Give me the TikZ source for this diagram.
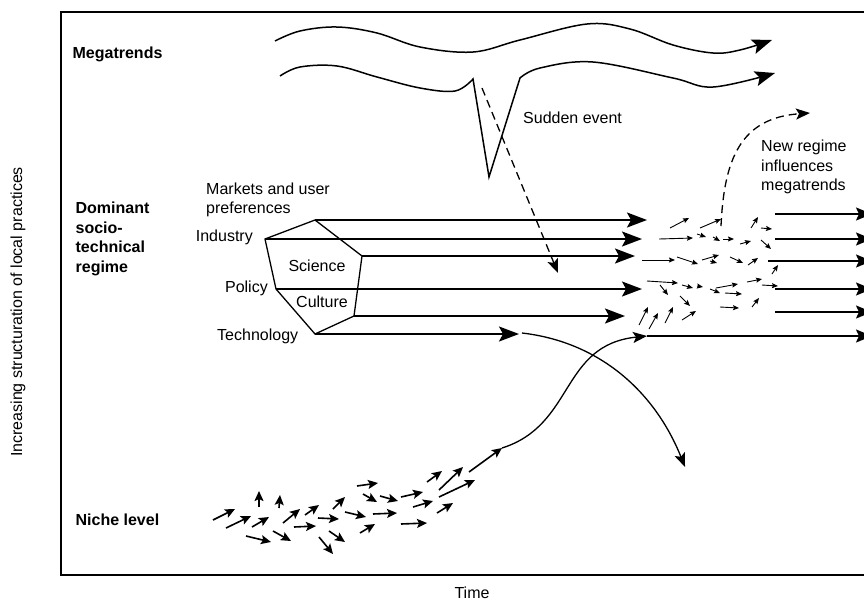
\documentclass[tikz,border=0pt]{standalone}
\usepackage{fontspec}
\setmainfont{Liberation Sans}
\usetikzlibrary{arrows.meta}

\tikzset{
  lbl/.style={inner sep=0pt, font=\fontsize{16}{19.5}\selectfont},
  head/.style={line width=1.3pt, font=\fontsize{16}{19.5}\selectfont\bfseries, inner sep=0pt},
  wave/.style={line width=1.5pt, -{Stealth[length=20pt,width=15pt,inset=4pt]}},
  stream/.style={line width=1.8pt, -{Stealth[length=20pt,width=15pt,inset=4pt]}},
  outflow/.style={line width=1.8pt, -{Stealth[length=16pt,width=13pt,inset=3pt]}},
  path/.style={line width=1.3pt, -{Stealth[length=14pt,width=11pt,inset=3pt]}},
  influence/.style={line width=1.3pt, dashed, dash pattern=on 8pt off 5pt, -{Stealth[length=14pt,width=11pt,inset=3pt]}},
  niche/.style={line width=1.6pt, -{Stealth[length=10pt,width=9pt,inset=2pt]}},
  swarm/.style={line width=0.9pt, -{Stealth[length=6pt,width=5pt,inset=1pt]}}
}

\begin{document}
\begin{tikzpicture}[x=1pt, y=-1pt]
      \useasboundingbox (0,0) rectangle (864,603);
      \draw[line width=1.8pt] (872,12) -- (61,12) -- (61,575) -- (872,575);

      \draw
        (72,54) node[head, anchor=west] (mega){Megatrends}
        (75,239) node[head, anchor=west, align=left] (regime){Dominant\\socio-\\technical\\regime}
        (75,520) node[head, anchor=west] (niche){Niche level}
        (18,312) node[lbl, rotate=90] (yaxis){Increasing structuration of local practices}
        (472,593) node[lbl] (xaxis){Time}
        (523,118) node[lbl, anchor=west] (sudden){Sudden event}
        (761,167) node[lbl, anchor=west, align=left] (newreg){New regime\\influences\\megatrends}
        (206,200) node[lbl, anchor=west, align=left] (markets){Markets and user\\preferences}
        (253,237) node[lbl, anchor=east] (industry){Industry}
        (268,288) node[lbl, anchor=east] (policy){Policy}
        (217,336) node[lbl, anchor=west] (techn){Technology}
        (317,266) node[lbl] (science){Science}
        (322,302) node[lbl] (culture){Culture};

      \coordinate (pa) at (315,220);
      \coordinate (pb) at (265,239);
      \coordinate (pc) at (276,289);
      \coordinate (pd) at (315,334);
      \coordinate (pe) at (354,316);
      \coordinate (pf) at (362,256);
      \coordinate (ta) at (647,220);
      \coordinate (tb) at (642,239);
      \coordinate (tf) at (635,256);
      \coordinate (tc) at (642,289);
      \coordinate (te) at (625,316);
      \coordinate (td) at (519,334);
      \coordinate (vtop) at (473,79);
      \coordinate (vbot) at (489,177);
      \coordinate (vend) at (520,78);
      \coordinate (dstart) at (482,88);
      \coordinate (dend) at (558,273);
      \coordinate (nstart) at (721,226);
      \coordinate (nend) at (810,113);
      \coordinate (cstart) at (522,333);
      \coordinate (cend) at (685,467);
      \coordinate (tail) at (469,472);
      \coordinate (rise) at (502,448);
      \coordinate (land) at (647,336);

      \draw[wave] plot[smooth, tension=0.6] coordinates {(275,41) (300,31) (337,27) (377,33) (420,47) (473,52) (520,40) (587,24) (630,29) (673,45) (713,53) (740,50) (772,40)};
      \draw[wave] plot[smooth, tension=0.6] coordinates {(280,76) (300,67) (337,66) (377,77) (420,88) (455,91) (vtop)}
        -- (vbot) -- plot[smooth, tension=0.6] coordinates {(vend) (540,68) (593,62) (673,78) (713,87) (775,73)};

      \draw[influence] (dstart) -- (dend);
      \draw[influence] (nstart) .. controls (724,160) and (740,118) .. (nend);

      \draw[head] (pa) -- (pb) -- (pc) -- (pd) -- (pe) -- (pf) -- cycle;
      \begin{scope}[stream]
        \draw (pa) -- (ta);
        \draw (pb) -- (tb);
        \draw (pf) -- (tf);
        \draw (pc) -- (tc);
        \draw (pe) -- (te);
        \draw (pd) -- (td);
      \end{scope}

      \draw[path] (cstart) .. controls (600,342) and (655,392) .. (cend);
      \draw[niche] (tail) -- (rise);
      \draw[path] (rise) .. controls (575,425) and (560,345) .. (land);

      \begin{scope}[outflow]
        \draw (775,214) -- (872,214);
        \draw (775,239) -- (872,239);
        \draw (768,261) -- (872,261);
        \draw (775,289) -- (872,289);
        \draw (775,312) -- (872,312);
        \draw (land) -- (872,336);
      \end{scope}

      \foreach \xa/\ya/\xb/\yb in {213/520/235/509, 226/528/251/516, 259/507/259/491,
        279/508/280/495, 252/527/269/517, 246/536/271/542, 273/531/291/541,
        283/523/300/509, 294/527/316/526, 305/515/319/505, 318/518/339/519,
        319/537/333/554, 329/531/345/542, 333/509/345/497, 345/512/366/517,
        357/486/378/483, 360/533/375/524, 363/494/377/502, 373/514/397/513,
        380/496/398/501, 401/497/423/492, 401/524/427/523, 413/507/433/501,
        427/482/442/471, 439/490/463/467, 439/497/475/480, 437/513/453/503}
        \draw[niche] (\xa,\ya) -- (\xb,\yb);

      \foreach \xa/\ya/\xb/\yb in {670/228/689/218, 700/228/721/219, 659/239/693/238,
        697/234/706/237, 713/237/720/241, 723/239/734/239, 740/244/751/241,
        751/228/758/217, 761/228/772/229, 761/240/771/249, 642/260/675/260,
        677/257/698/264, 702/260/719/255, 710/261/717/263, 730/257/743/263,
        748/265/758/258, 772/274/778/265, 647/281/678/283, 660/285/668/295,
        682/285/693/288, 697/286/703/287, 710/289/720/293, 716/288/738/284,
        725/293/742/294, 747/282/762/279, 762/285/778/286, 680/296/690/306,
        682/320/696/311, 720/307/739/308, 752/307/759/298, 639/325/648/307,
        649/329/658/313, 665/323/673/307}
        \draw[swarm] (\xa,\ya) -- (\xb,\yb);
    \end{tikzpicture}
\end{document}
